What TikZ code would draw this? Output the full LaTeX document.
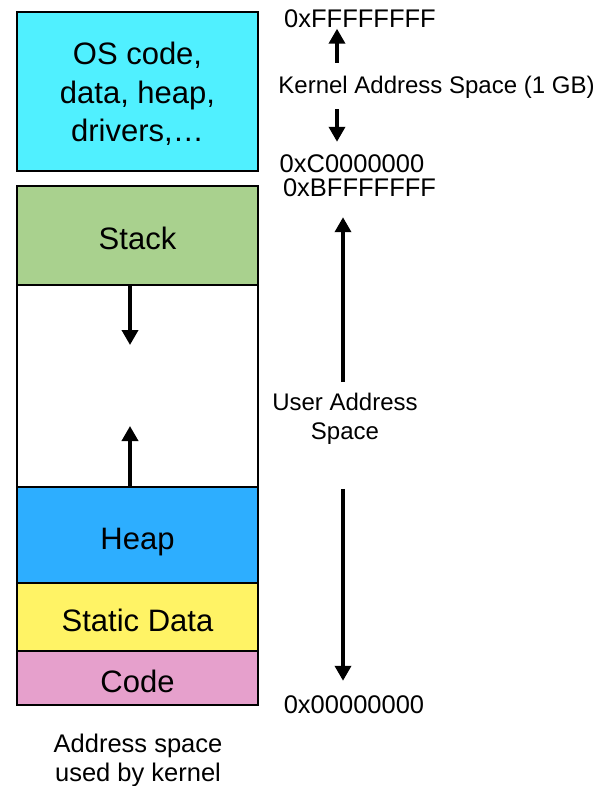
\documentclass[tikz,border=0pt]{standalone}
\usepackage{fontspec}
\setmainfont{Liberation Sans}
\usetikzlibrary{arrows.meta,calc}

\definecolor{oscyan}{HTML}{50F0FF}
\definecolor{stackgreen}{HTML}{A9D18E}
\definecolor{heapblue}{HTML}{2DAEFF}
\definecolor{datayellow}{HTML}{FFF365}
\definecolor{codepink}{HTML}{E6A0CC}

\tikzset{
  seg/.style={draw=black,line width=2pt,minimum width=241pt,inner sep=0pt,
    align=center,font=\fontsize{31}{38.5}\selectfont},
  oneline/.style={text height=30pt,text depth=2pt},
  hexlab/.style={inner sep=1pt,font=\fontsize{25.5}{30}\selectfont},
  txtlab/.style={inner sep=1pt,align=center,font=\fontsize{24}{29}\selectfont},
  growarr/.style={line width=3.6pt,-{Triangle[width=16pt,length=15pt]}}
}

\begin{document}
\begin{tikzpicture}[x=1pt,y=-1pt]
\useasboundingbox[fill=white] (0,0) rectangle (599,786);
% Drawing the kernel part
\node[seg,fill=oscyan,minimum height=159pt] (kernel) at (137.5,91.5) {};
\node[align=center,inner sep=0pt,font=\fontsize{31}{38.5}\selectfont] (kerntext)
  at (137.5,94) {OS code,\\data, heap,\\drivers,\ldots};
% Drawing the user part, top to bottom
\node[seg,oneline,fill=stackgreen,minimum height=99pt] (stack) at (137.5,235.5) {Stack};
\node[seg,fill=white,minimum height=202pt] (free) at (137.5,386) {};
\node[seg,oneline,fill=heapblue,minimum height=96pt] (heap) at (137.5,535) {Heap};
\node[seg,oneline,fill=datayellow,minimum height=68pt] (static) at (137.5,617) {Static Data};
\node[seg,oneline,fill=codepink,minimum height=54pt] (code) at (137.5,678) {Code};
% Stack grows down, heap grows up
\coordinate (stacktip) at (130,345);
\coordinate (heaptip) at (130,426);
\draw[growarr] (stack.south -| stacktip) -- (stacktip);
\draw[growarr] (heap.north -| heaptip) -- (heaptip);
% Addresses
\node[hexlab] (hexTop) at (360,18.5) {0xFFFFFFFF};
\node[hexlab] (hexC) at (352,164) {0xC0000000};
\node[hexlab] (hexB) at (359.5,188) {0xBFFFFFFF};
\node[hexlab] (hexZero) at (354,705) {0x00000000};
% Range labels
\node[txtlab] (kernlab) at (436.5,87) {Kernel Address Space (1 GB)};
\node[txtlab] (userlab) at (345,419) {User Address\\Space};
\node[txtlab,font=\fontsize{25.5}{29}\selectfont] (caption) at (138,760)
  {Address space\\used by kernel};
% Range arrows
\coordinate (kx) at (337,0);
\coordinate (ux) at (343,0);
\draw[growarr,shorten <=12pt] (kernlab.north -| kx) -- (hexTop.south -| kx);
\draw[growarr,shorten <=10pt,shorten >=12pt] (kernlab.south -| kx) -- (hexC.north -| kx);
\draw[growarr,shorten <=10pt,shorten >=19pt] (userlab.north -| ux) -- (hexB.south -| ux);
\draw[growarr,shorten <=43pt,shorten >=14pt] (userlab.south -| ux) -- (hexZero.north -| ux);
\end{tikzpicture}
\end{document}
